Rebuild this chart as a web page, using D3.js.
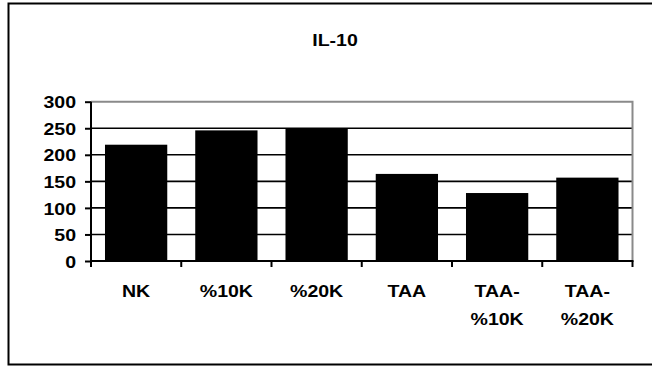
<!DOCTYPE html>
<html>
<head>
<meta charset="utf-8">
<script src="https://cdn.jsdelivr.net/npm/d3@7"></script>
<style>
  body { margin: 0; background: #fff; }
  text { font-family: "Liberation Sans", Arial, sans-serif; font-weight: bold; fill: #000; }
</style>
</head>
<body>
<div id="chart"></div>
<script>
const categories = [['NK'], ['%10K'], ['%20K'], ['TAA'], ['TAA-', '%10K'], ['TAA-', '%20K']]
const values = [219, 246, 249, 164, 128, 157]
const yTicks = [0, 50, 100, 150, 200, 250, 300]
const title = 'IL-10'

const width = 652
const height = 367
const plot = { left: 91, right: 632.5, top: 101.7, bottom: 261 }

const svg = d3.select('#chart')
  .append('svg')
  .attr('width', width)
  .attr('height', height)

// outer frame (right side runs off the picture)
svg.append('path')
  .attr('d', `M${width + 5},3.5 H8.5 V364.5 H${width + 5}`)
  .attr('fill', 'none')
  .attr('stroke', '#000')
  .attr('stroke-width', 2)

const x = d3.scaleBand()
  .domain(d3.range(categories.length))
  .range([plot.left, plot.right])
  .paddingInner(0.31)
  .paddingOuter(0.155)

const y = d3.scaleLinear()
  .domain([0, 300])
  .range([plot.bottom, plot.top])

// gridlines
svg.append('g')
  .selectAll('line')
  .data(yTicks.filter(d => d > 0 && d < 300))
  .join('line')
  .attr('x1', plot.left)
  .attr('x2', plot.right)
  .attr('y1', d => y(d))
  .attr('y2', d => y(d))
  .attr('stroke', '#000')
  .attr('stroke-width', 1.6)

// gray plot border top/right
svg.append('path')
  .attr('d', `M${plot.left},${y(300)} H${plot.right} V${plot.bottom}`)
  .attr('fill', 'none')
  .attr('stroke', '#8a8a8a')
  .attr('stroke-width', 2)

// bars
svg.append('g')
  .selectAll('rect')
  .data(values)
  .join('rect')
  .attr('x', (d, i) => x(i))
  .attr('width', x.bandwidth())
  .attr('y', d => y(d))
  .attr('height', d => y(0) - y(d))
  .attr('fill', '#000')

// y axis
const yAxis = svg.append('g')
  .attr('transform', `translate(${plot.left},0)`)
  .call(d3.axisLeft(y).tickValues(yTicks).tickSize(6).tickPadding(0).tickFormat(d3.format('d')))
yAxis.select('.domain').attr('stroke-width', 2).attr('d', `M0,${plot.bottom + 1}V${plot.top}`)
yAxis.selectAll('.tick line').attr('stroke-width', 2)
yAxis.selectAll('.tick text')
  .attr('x', 0)
  .attr('dy', '0.36em')
  .attr('font-size', 17)
  .attr('font-family', null)
  .attr('transform', 'translate(-15,0) scale(1.15,1)')

// x axis with ticks at category boundaries
const edges = d3.range(categories.length + 1).map(i => plot.left + i * (plot.right - plot.left) / categories.length)
svg.append('line')
  .attr('x1', plot.left - 1)
  .attr('x2', plot.right + 1)
  .attr('y1', plot.bottom)
  .attr('y2', plot.bottom)
  .attr('stroke', '#000')
  .attr('stroke-width', 2)
svg.append('g')
  .selectAll('line')
  .data(edges)
  .join('line')
  .attr('x1', d => d)
  .attr('x2', d => d)
  .attr('y1', plot.bottom)
  .attr('y2', plot.bottom + 6)
  .attr('stroke', '#000')
  .attr('stroke-width', 2)

svg.append('g')
  .selectAll('text')
  .data(categories)
  .join('text')
  .attr('transform', (d, i) => `translate(${x(i) + x.bandwidth() / 2},0) scale(1.15,1)`)
  .attr('text-anchor', 'middle')
  .attr('font-size', 17)
  .selectAll('tspan')
  .data(d => d)
  .join('tspan')
  .attr('x', 0)
  .attr('y', (d, j) => 297 + j * 28)
  .text(d => d)

svg.append('text')
  .attr('transform', 'translate(335,46) scale(1.15,1)')
  .attr('text-anchor', 'middle')
  .attr('font-size', 17)
  .text(title)
</script>
</body>
</html>
